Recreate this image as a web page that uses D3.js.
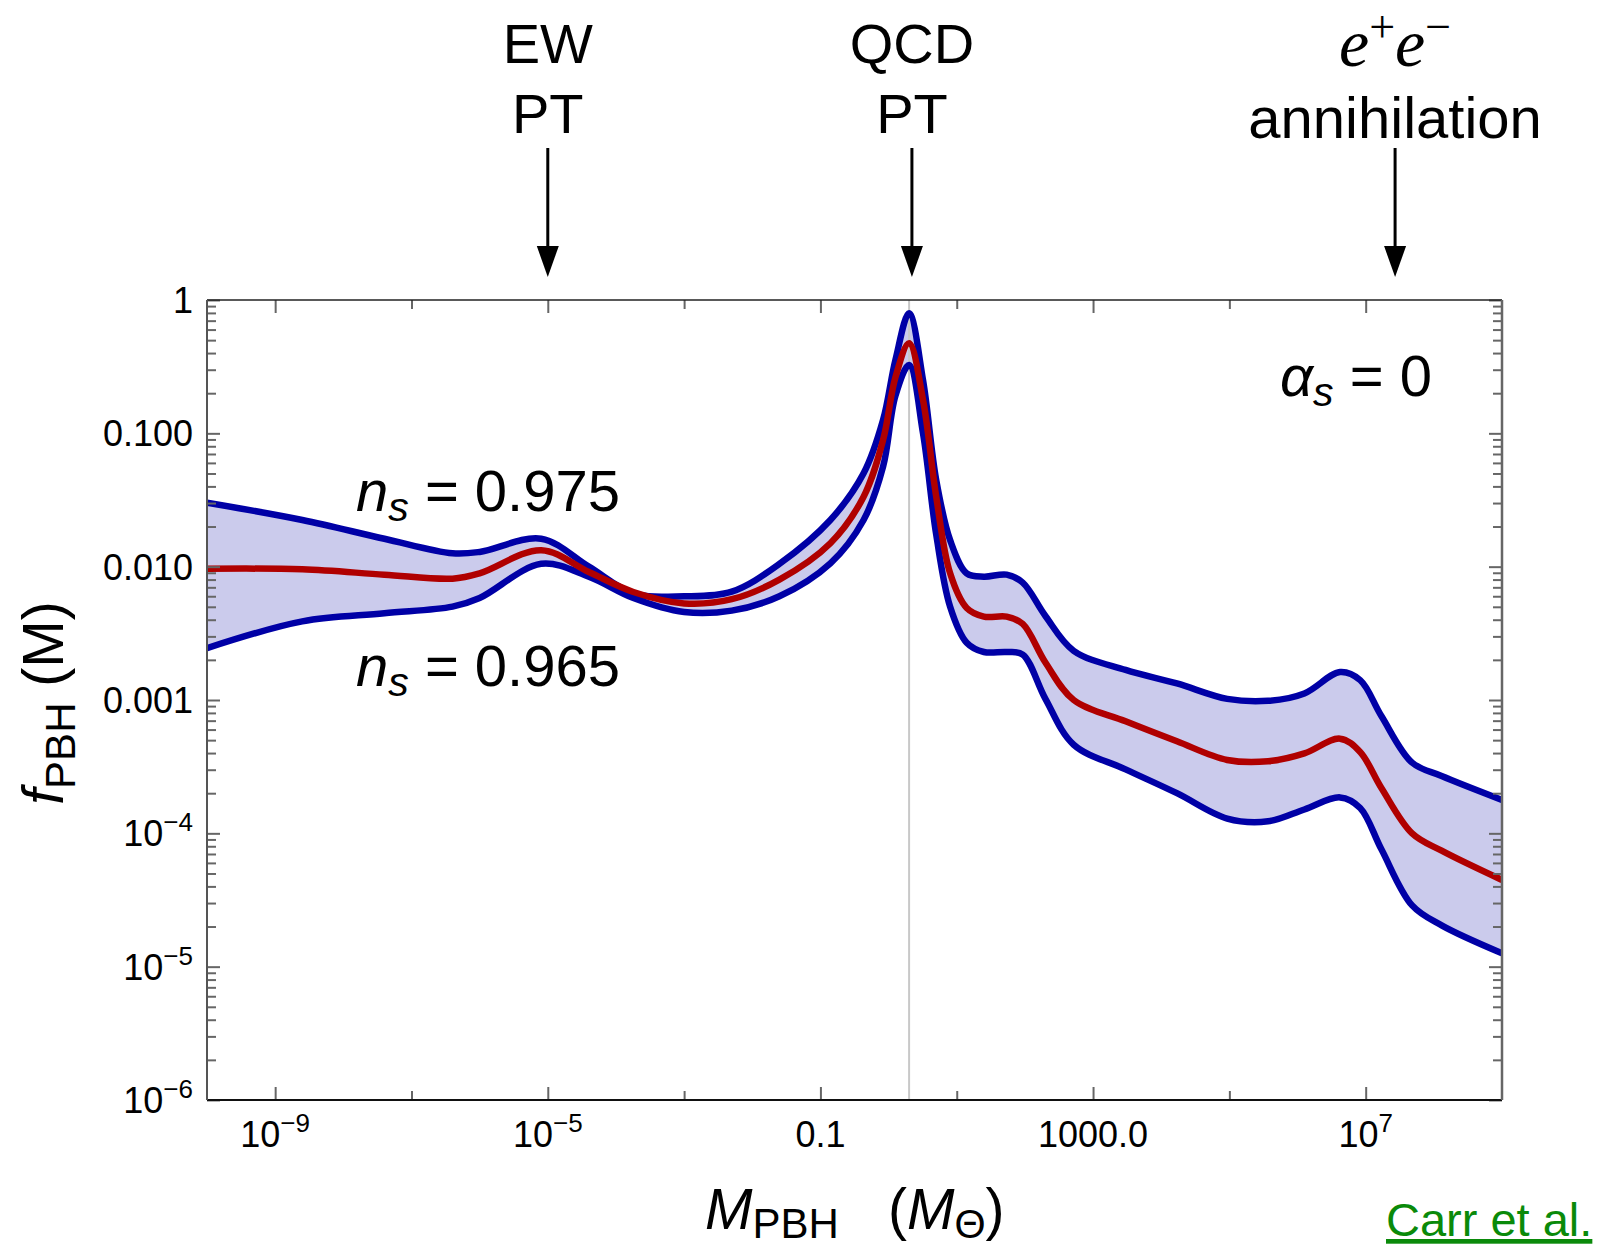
<!DOCTYPE html>
<html>
<head>
<meta charset="utf-8">
<script src="https://cdn.jsdelivr.net/npm/d3@7"></script>
<style>
	body { margin: 0; background: #fff; }
	svg text { font-family: "Liberation Sans", Arial, Helvetica, sans-serif; fill: #000; }
</style>
</head>
<body>
<svg id="chart" width="1604" height="1248"></svg>
<script>
var massGrid = [1e-10, 2.5e-9, 4e-8, 4e-7, 1e-6, 8e-6, 4e-5, 1.8e-4, 1e-3, 5e-3,
	0.025, 0.14, 0.43, 0.83, 1.26, 2.0, 3.2, 5.0, 8.0, 14,
	25, 54, 93, 200, 520, 3000, 1.7e4, 9.3e4, 3.7e5, 1.26e6,
	4.2e6, 8.3e6, 1.7e7, 4.8e7, 1.3e8, 1e9];
// n_s = 0.975
var upperF = [0.0302, 0.0224, 0.0162, 0.0126, 0.0129, 0.0162, 0.0100, 0.00631, 0.00600, 0.00650,
	0.0105, 0.0224, 0.0501, 0.126, 0.355, 0.794, 0.251, 0.0447, 0.0158, 0.00891,
	0.00841, 0.00871, 0.00759, 0.00427, 0.00234, 0.00168, 0.00133, 0.00102, 0.000986, 0.00112,
	0.00162, 0.00141, 0.000759, 0.000339, 0.000269, 0.000178];
// central value
var centralF = [0.00964, 0.00955, 0.00871, 0.00813, 0.00891, 0.0133, 0.00912, 0.00646, 0.00530, 0.00570,
	0.00800, 0.0150, 0.0335, 0.0891, 0.263, 0.473, 0.178, 0.0335, 0.00891, 0.00490,
	0.00422, 0.00422, 0.00372, 0.00191, 0.00100, 0.000692, 0.000490, 0.000355, 0.000347, 0.000398,
	0.000513, 0.000407, 0.000219, 0.000100, 0.0000741, 0.0000447];
// n_s = 0.965
var lowerF = [0.00245, 0.00389, 0.00447, 0.00501, 0.00582, 0.0105, 0.00841, 0.00582, 0.00457, 0.00468,
	0.00600, 0.0106, 0.0224, 0.0562, 0.191, 0.325, 0.100, 0.0174, 0.00501, 0.00269,
	0.00229, 0.00229, 0.00219, 0.00102, 0.000462, 0.000302, 0.000200, 0.000129, 0.000123, 0.000151,
	0.000186, 0.000155, 0.0000759, 0.0000288, 0.0000204, 0.0000126];

var xTicksMajor = [1e-9, 1e-5, 0.1, 1000, 1e7];
var xTickLabels = [["10", "\u22129"], ["10", "\u22125"], ["0.1", ""], ["1000.0", ""], ["10", "7"]];
var xTicksMinor = [1e-7, 1e-3, 10, 1e5];
var yTicksMajor = [1, 0.1, 0.01, 0.001, 1e-4, 1e-5, 1e-6];
var yTickLabels = [["1", ""], ["0.100", ""], ["0.010", ""], ["0.001", ""], ["10", "\u22124"], ["10", "\u22125"], ["10", "\u22126"]];

var transitionNames = [["EW", "PT"], ["QCD", "PT"], ["e+e-", "annihilation"]];
var transitionMass = [1e-5, 2.2, 2.7e7];
var qcdMass = 2;

(function(){

	var svg = d3.select("#chart");
	var plot = {left: 207, top: 300, right: 1502, bottom: 1100};

	var x = d3.scaleLog().domain([1e-10, 1e9]).range([plot.left, plot.right]);
	var y = d3.scaleLog().domain([1e-6, 1]).range([plot.bottom, plot.top]);

	var data = massGrid.map(function(m, i){
		return {m: m, hi: upperF[i], mid: centralF[i], lo: lowerF[i]};
	});

	svg.append("clipPath").attr("id", "clip")
		.append("rect")
		.attr("x", plot.left).attr("y", plot.top)
		.attr("width", plot.right - plot.left).attr("height", plot.bottom - plot.top);

	var g = svg.append("g").attr("clip-path", "url(#clip)");
	var smooth = d3.curveCatmullRom.alpha(0.5);

	var band = d3.area()
		.x(function(d){ return x(d.m); })
		.y0(function(d){ return y(d.lo); })
		.y1(function(d){ return y(d.hi); })
		.curve(smooth);

	g.append("path").datum(data)
		.attr("d", band)
		.attr("fill", "#cbcbec");

	g.append("line")
		.attr("x1", x(qcdMass)).attr("x2", x(qcdMass))
		.attr("y1", plot.top).attr("y2", plot.bottom)
		.attr("stroke", "#c8c8c8").attr("stroke-width", 2);

	function curve(key){
		return d3.line()
			.x(function(d){ return x(d.m); })
			.y(function(d){ return y(d[key]); })
			.curve(smooth);
	}

	g.append("path").datum(data).attr("d", curve("hi"))
		.attr("fill", "none").attr("stroke", "#0000a6").attr("stroke-width", 6.5).attr("stroke-linejoin", "round");
	g.append("path").datum(data).attr("d", curve("lo"))
		.attr("fill", "none").attr("stroke", "#0000a6").attr("stroke-width", 6.5).attr("stroke-linejoin", "round");
	g.append("path").datum(data).attr("d", curve("mid"))
		.attr("fill", "none").attr("stroke", "#b00000").attr("stroke-width", 6.5).attr("stroke-linejoin", "round");

	// frame ticks
	var yMinor = [];
	for(var e = -6; e < 0; e++){
		for(var k = 2; k <= 9; k++){
			yMinor.push(k * Math.pow(10, e));
		}
	}

	function addAxis(axis, transform){
		var a = svg.append("g").attr("transform", transform).call(axis);
		a.select(".domain").remove();
		a.selectAll(".tick line").attr("stroke", "#666").attr("stroke-width", 2);
		a.selectAll(".tick text").remove();
		return a;
	}

	addAxis(d3.axisBottom(x).tickValues(xTicksMajor).tickSize(-13), "translate(0," + plot.bottom + ")");
	addAxis(d3.axisBottom(x).tickValues(xTicksMinor).tickSize(-9), "translate(0," + plot.bottom + ")");
	addAxis(d3.axisTop(x).tickValues(xTicksMajor).tickSize(-13), "translate(0," + plot.top + ")");
	addAxis(d3.axisTop(x).tickValues(xTicksMinor).tickSize(-9), "translate(0," + plot.top + ")");
	addAxis(d3.axisLeft(y).tickValues(yTicksMajor).tickSize(-13), "translate(" + plot.left + ",0)");
	addAxis(d3.axisLeft(y).tickValues(yMinor).tickSize(-9), "translate(" + plot.left + ",0)");
	addAxis(d3.axisRight(y).tickValues(yTicksMajor).tickSize(-13), "translate(" + plot.right + ",0)");
	addAxis(d3.axisRight(y).tickValues(yMinor).tickSize(-9), "translate(" + plot.right + ",0)");

	// frame
	svg.append("line").attr("x1", plot.left).attr("x2", plot.right).attr("y1", plot.bottom).attr("y2", plot.bottom)
		.attr("stroke", "#111").attr("stroke-width", 2);
	svg.append("line").attr("x1", plot.left).attr("x2", plot.right).attr("y1", plot.top).attr("y2", plot.top)
		.attr("stroke", "#222").attr("stroke-width", 1.5);
	svg.append("line").attr("x1", plot.left).attr("x2", plot.left).attr("y1", plot.top).attr("y2", plot.bottom)
		.attr("stroke", "#555").attr("stroke-width", 2);
	svg.append("line").attr("x1", plot.right).attr("x2", plot.right).attr("y1", plot.top).attr("y2", plot.bottom)
		.attr("stroke", "#666").attr("stroke-width", 2.5);

	// tick labels
	xTicksMajor.forEach(function(v, i){
		var t = svg.append("text")
			.attr("x", x(v)).attr("y", 1147)
			.attr("text-anchor", "middle")
			.style("font-size", "36px");
		t.append("tspan").text(xTickLabels[i][0]);
		if(xTickLabels[i][1]){
			t.append("tspan").attr("dy", -15).style("font-size", "26px").text(xTickLabels[i][1]);
		}
	});

	yTicksMajor.forEach(function(v, i){
		var t = svg.append("text")
			.attr("x", 193).attr("y", y(v) + 13)
			.attr("text-anchor", "end")
			.style("font-size", "36px");
		t.append("tspan").text(yTickLabels[i][0]);
		if(yTickLabels[i][1]){
			t.append("tspan").attr("dy", -15).style("font-size", "26px").text(yTickLabels[i][1]);
		}
	});

	// axis titles
	var xt = svg.append("text").attr("x", 705).attr("y", 1229).style("font-size", "57px");
	xt.append("tspan").style("font-style", "italic").text("M");
	xt.append("tspan").attr("dy", 9).style("font-size", "42px").text("PBH");
	var xt2 = svg.append("text").attr("x", 888).attr("y", 1229).style("font-size", "57px");
	xt2.append("tspan").text("(");
	xt2.append("tspan").style("font-style", "italic").text("M");
	xt2.append("tspan").attr("dy", 9).style("font-size", "40px").text("\u0398");
	xt2.append("tspan").attr("dy", -9).text(")");

	var yt = svg.append("text")
		.attr("transform", "translate(63,703) rotate(-90)")
		.attr("text-anchor", "middle")
		.style("font-size", "57px");
	yt.append("tspan").style("font-style", "italic").text("f");
	yt.append("tspan").attr("dy", 12).style("font-size", "42px").text("PBH");
	yt.append("tspan").attr("dy", -12).text("\u00a0(M)");

	// curve labels
	function nsLabel(value, yy){
		var t = svg.append("text").attr("x", 356).attr("y", yy).style("font-size", "58px");
		t.append("tspan").style("font-style", "italic").text("n");
		t.append("tspan").attr("dy", 10).style("font-size", "41px").style("font-style", "italic").text("s");
		t.append("tspan").attr("dy", -10).text(" = " + value);
	}
	nsLabel("0.975", 511);
	nsLabel("0.965", 686);

	var at = svg.append("text").attr("x", 1280).attr("y", 396).style("font-size", "58px");
	at.append("tspan").style("font-style", "italic").text("\u03b1");
	at.append("tspan").attr("dy", 10).style("font-size", "41px").style("font-style", "italic").text("s");
	at.append("tspan").attr("dy", -10).text(" = 0");

	// transitions
	transitionMass.forEach(function(m, i){
		var cx = x(m);
		if(transitionNames[i][0] === "e+e-"){
			var t = svg.append("text").attr("x", cx).attr("y", 66)
				.attr("text-anchor", "middle")
				.style("font-family", "'Liberation Serif', 'Times New Roman', serif")
				.style("font-style", "italic")
				.style("font-size", "68px");
			t.append("tspan").text("e");
			t.append("tspan").attr("dy", -24).style("font-size", "46px").style("font-style", "normal").text("+");
			t.append("tspan").attr("dy", 24).text("e");
			t.append("tspan").attr("dy", -24).style("font-size", "46px").style("font-style", "normal").text("\u2212");
		} else {
			svg.append("text").attr("x", cx).attr("y", 63)
				.attr("text-anchor", "middle").style("font-size", "56px")
				.text(transitionNames[i][0]);
		}
		svg.append("text").attr("x", cx).attr("y", i === 2 ? 138 : 133)
			.attr("text-anchor", "middle").style("font-size", i === 2 ? "58px" : "56px")
			.text(transitionNames[i][1]);

		svg.append("line").attr("x1", cx).attr("x2", cx).attr("y1", 148).attr("y2", 250)
			.attr("stroke", "#000").attr("stroke-width", 3);
		svg.append("path")
			.attr("d", "M" + (cx - 11) + ",246L" + (cx + 11) + ",246L" + cx + ",277Z")
			.attr("fill", "#000");
	});

	// source
	svg.append("text").attr("x", 1386).attr("y", 1236)
		.style("font-size", "47px").style("fill", "#0a8a0a")
		.style("text-decoration", "underline")
		.text("Carr et al.");

})();
</script>
</body>
</html>
